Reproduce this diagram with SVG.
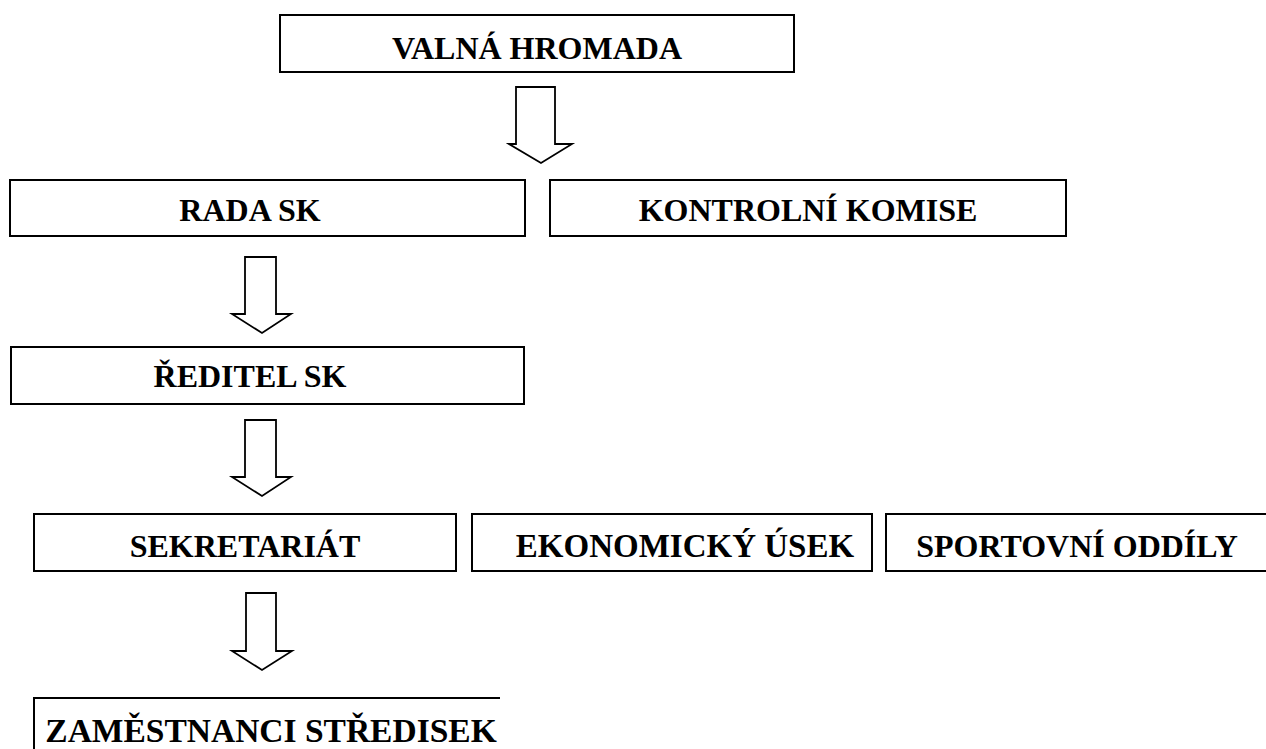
<svg xmlns="http://www.w3.org/2000/svg" width="1266" height="749" viewBox="0 0 1266 749">
<style>
.box{fill:#fff;stroke:#000;stroke-width:2}
.lbl{font-family:"Liberation Serif","Times New Roman",serif;font-weight:bold;font-size:32px;fill:#000;text-anchor:middle}
.arr{fill:#fff;stroke:#000;stroke-width:1.8;stroke-linejoin:miter}
</style>
<rect width="1266" height="749" fill="#fff"/>
<g id="connectors">
<path class="arr" d="M516,87 H555 V144 H572 L541,163 L509,144 H516 Z"/>
<path class="arr" d="M245,257 H276 V314 H291 L262,333 L232,314 H245 Z"/>
<path class="arr" d="M245,420 H276 V477 H291 L262,496 L232,477 H245 Z"/>
<path class="arr" d="M246,593 H276 V651 H292 L262,670 L232,651 H246 Z"/>
</g>
<g id="valna-hromada"><rect class="box" x="280" y="15" width="514" height="57"/><text class="lbl" x="537" y="59">VALNÁ HROMADA</text></g>
<g id="rada-sk"><rect class="box" x="10" y="180" width="515" height="56"/><text class="lbl" x="250" y="221">RADA SK</text></g>
<g id="kontrolni-komise"><rect class="box" x="550" y="180" width="516" height="56"/><text class="lbl" x="808" y="221">KONTROLNÍ KOMISE</text></g>
<g id="reditel-sk"><rect class="box" x="11" y="347" width="513" height="57"/><text class="lbl" x="250" y="387">ŘEDITEL SK</text></g>
<g id="sekretariat"><rect class="box" x="34" y="514" width="422" height="57"/><text class="lbl" x="245" y="557">SEKRETARIÁT</text></g>
<g id="ekonomicky-usek"><rect class="box" x="472" y="514" width="400" height="57"/><text class="lbl" x="685" y="557" style="font-size:33px">EKONOMICKÝ ÚSEK</text></g>
<g id="sportovni-oddily"><rect class="box" x="886" y="514" width="400" height="57"/><text class="lbl" x="1077" y="557">SPORTOVNÍ ODDÍLY</text></g>
<g id="zamestnanci-stredisek"><path class="box" fill="none" d="M500,698 H34 V760"/><text class="lbl" x="271" y="742" style="font-size:33.5px">ZAMĚSTNANCI STŘEDISEK</text></g>
</svg>
